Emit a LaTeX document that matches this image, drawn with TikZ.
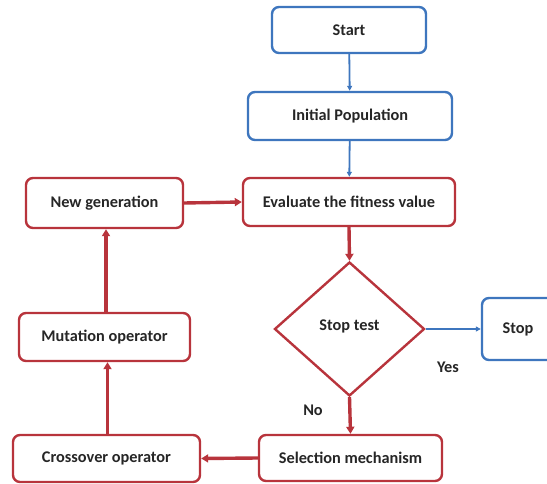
\documentclass[tikz,border=0pt]{standalone}
\usepackage{fontspec}
\setmainfont{Carlito}
\usetikzlibrary{shapes.geometric,arrows.meta}
\definecolor{bbl}{RGB}{62,118,190}
\definecolor{rrd}{RGB}{184,52,60}
\tikzset{
  every node/.style={font=\bfseries\fontsize{16.3}{19}\selectfont, text=black!85},
  bluebox/.style={draw=bbl, line width=2.4pt, rounded corners=7pt, fill=white, inner sep=0pt},
  redbox/.style={draw=rrd, line width=2.4pt, rounded corners=7pt, fill=white, inner sep=0pt},
  bluearr/.style={draw=bbl, line width=1.8pt, -{Triangle[length=5pt,width=5pt]}},
  redarr/.style={draw=rrd, line width=3.4pt, -{Triangle[length=7pt,width=8pt]}},
  lbl/.style={inner sep=0pt}
}
\begin{document}
\begin{tikzpicture}[x=1pt,y=-1pt]
\useasboundingbox (0,0) rectangle (547,484);
\node[bluebox, minimum width=154pt, minimum height=46pt] (start) at (349,30) {Start};
\node[bluebox, minimum width=204pt, minimum height=48pt] (init) at (350,116) {Initial Population};
\node[redbox, minimum width=212pt, minimum height=48pt] (eval) at (349,202) {Evaluate the fitness value};
\node[redbox, minimum width=157pt, minimum height=50pt] (newgen) at (104.5,203) {New generation};
\node[draw=rrd, line width=2.4pt, diamond, fill=white, inner sep=0pt, minimum width=150pt, minimum height=134pt] (test) at (349.5,329) {\raisebox{7pt}{Stop test}};
\node[bluebox, minimum width=72pt, minimum height=62pt] (stop) at (518,329) {Stop};
\node[redbox, minimum width=171pt, minimum height=48pt] (mut) at (104.5,337) {Mutation operator};
\node[redbox, minimum width=187pt, minimum height=47pt] (cross) at (106.5,458.5) {Crossover operator};
\node[redbox, minimum width=183pt, minimum height=46pt] (sel) at (350.5,458) {Selection mechanism};
\node[lbl] (yes) at (448,367) {Yes};
\node[lbl] (no) at (313,410) {No};
\draw[bluearr] (start) -- (init);
\draw[bluearr] (init) -- (eval);
\draw[redarr] (eval.south) -- (test.north);
\draw[bluearr] (test.east) -- (stop.west);
\draw[redarr] (test.south) -- (sel.north);
\draw[redarr] (sel.west) -- (cross.east);
\draw[redarr] ([xshift=1pt]cross.north) -- ([xshift=1pt]cross.north |- mut.south);
\draw[redarr] ([xshift=1.5pt]mut.north) -- ([xshift=1.5pt]mut.north |- newgen.south);
\draw[redarr] (newgen.east) -- (eval.west);
\end{tikzpicture}
\end{document}
